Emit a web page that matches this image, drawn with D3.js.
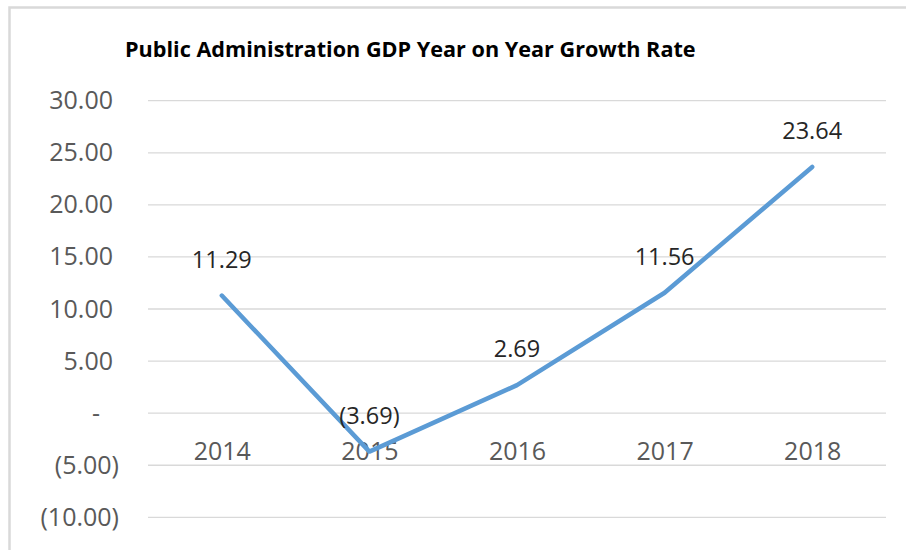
<!DOCTYPE html>
<html>
<head>
<meta charset="utf-8">
<script src="https://cdn.jsdelivr.net/npm/d3@7"></script>
<style>
  html, body { margin: 0; padding: 0; background: #fff; }
  svg { display: block; }
</style>
</head>
<body>
<svg id="chart" width="906" height="550"></svg>
<script>
// Public Administration GDP, year-on-year growth rate (%)
const years = ["2014", "2015", "2016", "2017", "2018"];
const growth = [11.29, -3.69, 2.69, 11.56, 23.64];
const yTicks = [-10, -5, 0, 5, 10, 15, 20, 25, 30];
const titleText = "Public Administration GDP Year on Year Growth Rate";

const W = 906, H = 550;
const plot = { left: 148, right: 886, top: 100.7, bottom: 517.3 };
const FONT = "'Open Sans', 'Liberation Sans', sans-serif";

const svg = d3.select("#chart");

// outer chart frame (only top and left edges fall inside the view)
svg.append("rect")
  .attr("x", 9.5).attr("y", 7.5)
  .attr("width", W + 20).attr("height", H + 20)
  .attr("fill", "#fff")
  .attr("stroke", "#d9d9d9").attr("stroke-width", 2.5);

const x = d3.scalePoint().domain(years).range([plot.left, plot.right]).padding(0.5);
const y = d3.scaleLinear().domain([-10, 30]).range([plot.bottom, plot.top]);

// accounting-style number format: 5.00 / - / (5.00)
const fmt = v => v > 0 ? d3.format(".2f")(v) : v < 0 ? "(" + d3.format(".2f")(-v) + ")" : "-";

// horizontal gridlines
svg.append("g")
  .selectAll("line")
  .data(yTicks)
  .join("line")
  .attr("x1", plot.left).attr("x2", plot.right)
  .attr("y1", d => y(d)).attr("y2", d => y(d))
  .attr("stroke", "#d9d9d9").attr("stroke-width", 1.3);

// value axis
const yAxis = svg.append("g")
  .attr("transform", `translate(${plot.left},0)`)
  .call(d3.axisLeft(y).tickValues(yTicks).tickSize(0).tickFormat(fmt));
yAxis.select(".domain").remove();
yAxis.selectAll("text")
  .attr("x", d => d > 0 ? -35 : d < 0 ? -29 : -48)
  .attr("fill", "#595959")
  .style("font-family", FONT)
  .style("font-size", "25px");

// category axis sits on the zero line
const xAxis = svg.append("g")
  .attr("transform", `translate(0,${y(0)})`)
  .call(d3.axisBottom(x).tickSize(0).tickPadding(29));
xAxis.select(".domain").remove();
xAxis.selectAll("text")
  .attr("fill", "#595959")
  .style("font-family", FONT)
  .style("font-size", "25px");

// growth line
const pts = years.map((yr, i) => ({ yr, v: growth[i] }));
svg.append("path")
  .datum(pts)
  .attr("fill", "none")
  .attr("stroke", "#5b9bd5")
  .attr("stroke-width", 4.5)
  .attr("stroke-linecap", "round")
  .attr("stroke-linejoin", "round")
  .attr("d", d3.line().x(d => x(d.yr)).y(d => y(d.v)));

// data labels above each point
svg.append("g")
  .selectAll("text")
  .data(pts)
  .join("text")
  .attr("x", d => x(d.yr))
  .attr("y", d => y(d.v) - 28)
  .attr("text-anchor", "middle")
  .attr("fill", "#262626")
  .style("font-family", FONT)
  .style("font-size", "23.5px")
  .text(d => fmt(d.v));

// title, sized to its text box
const title = svg.append("text")
  .attr("x", 125).attr("y", 57)
  .attr("fill", "#000")
  .style("font-family", FONT)
  .style("font-weight", "bold")
  .style("font-size", "20px")
  .text(titleText);
const tw = title.node().getComputedTextLength();
title.style("font-size", (20 * 571 / tw).toFixed(2) + "px");
</script>
</body>
</html>
